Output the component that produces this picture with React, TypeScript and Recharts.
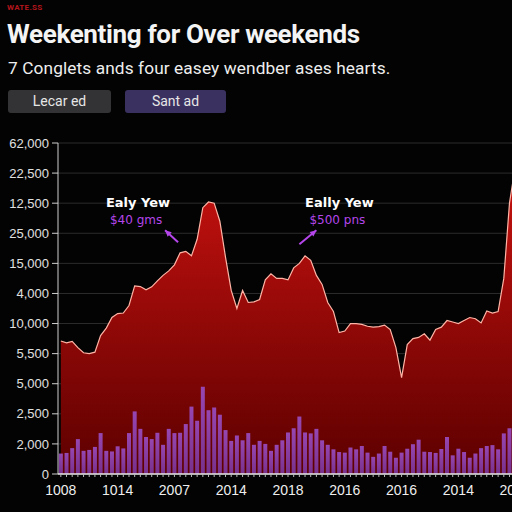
import { ComposedChart, Area, Bar, XAxis, YAxis, CartesianGrid, ReferenceDot } from 'recharts'

// weekly price trace (axis units, one step per gridline)
const priceLine = [
  4.42, 4.36, 4.41, 4.2, 4.03, 4.0, 4.05, 4.6, 4.85, 5.2,
  5.33, 5.35, 5.6, 6.25, 6.23, 6.12, 6.22, 6.42, 6.6, 6.75,
  6.95, 7.35, 7.4, 7.25, 7.8, 8.85, 9.04, 9.0, 8.4, 7.2,
  6.1, 5.5, 6.1, 5.7, 5.72, 5.8, 6.45, 6.65, 6.5, 6.5,
  6.45, 6.85, 7.0, 7.25, 7.1, 6.6, 6.3, 5.7, 5.4, 4.7,
  4.75, 5.0, 5.0, 4.97, 4.91, 4.88, 4.9, 4.95, 4.8, 4.2,
  3.2, 4.3, 4.5, 4.54, 4.66, 4.45, 4.8, 4.88, 5.1, 5.05,
  5.0, 5.1, 5.2, 5.16, 5.02, 5.42, 5.35, 5.4, 6.5, 9.0,
  10.2,
]

// weekly volume bars
const volumeBars = [
  0.68, 0.7, 0.86, 1.16, 0.77, 0.8, 0.9, 1.36, 0.77, 0.75,
  0.92, 0.85, 1.36, 2.08, 1.5, 1.23, 1.16, 1.37, 0.97, 1.5,
  1.36, 1.37, 1.66, 2.24, 1.77, 2.9, 2.12, 2.21, 1.97, 1.46,
  1.1, 1.28, 1.12, 1.36, 0.97, 1.1, 1.0, 0.77, 0.97, 1.12,
  1.38, 1.52, 1.91, 1.38, 1.35, 1.5, 1.12, 0.97, 0.82, 0.73,
  0.71, 0.88, 0.82, 0.93, 0.71, 0.57, 0.68, 0.93, 0.74, 0.54,
  0.71, 0.84, 0.99, 1.14, 0.74, 0.73, 0.7, 0.83, 1.23, 0.62,
  0.84, 0.73, 0.54, 0.68, 0.86, 0.93, 0.96, 0.82, 1.35, 1.52,
  2.9,
]

const yTickLabels = [
  '0', '2,000', '2,500', '5,000', '5,500', '10,000',
  '4,000', '15,000', '25,000', '12,500', '22,500', '62,000',
]

const xTickLabels = ['1008', '1014', '2007', '2014', '2018', '2016', '2016', '2014', '2018']

const callouts = [
  { at: 18, level: 8.1, title: 'Ealy Yew', note: '$40 gms', side: 'left' },
  { at: 45, level: 8.1, title: 'Eally Yew', note: '$500 pns', side: 'right' },
]

const data = priceLine.map((price, i) => ({ i, price, volume: volumeBars[i] }))

const ACCENT = '#b446ea'

function AxisTick({ x, y, payload }: any) {
  const idx = payload.value as number
  const showLabel = idx % 10 === 0
  return (
    <g>
      <line x1={x} x2={x} y1={y} y2={y + 3} stroke="#bbb" strokeWidth={1} />
      {showLabel && (
        <text x={x} y={y + 21} textAnchor="middle" fill="#eee" fontSize={14} fontFamily="'Liberation Sans', Arial, sans-serif">
          {xTickLabels[idx / 10]}
        </text>
      )}
    </g>
  )
}

function Callout({ cx, cy, title, note, side }: any) {
  const left = side === 'left'
  const tx = left ? cx - 25 : cx + 23
  const tail = left ? { x: cx + 15, y: cy + 12 } : { x: cx - 17, y: cy + 14 }
  const head = { x: cx + (left ? 2 : 0), y: cy }
  const ang = Math.atan2(head.y - tail.y, head.x - tail.x)
  const hl = 7
  const p1 = `${head.x},${head.y}`
  const p2 = `${head.x - hl * Math.cos(ang - 0.45)},${head.y - hl * Math.sin(ang - 0.45)}`
  const p3 = `${head.x - hl * Math.cos(ang + 0.45)},${head.y - hl * Math.sin(ang + 0.45)}`
  return (
    <g fontFamily="'DejaVu Sans', sans-serif">
      <text x={tx} y={cy - 23} textAnchor="middle" fill="#fff" fontSize={13} fontWeight="bold">
        {title}
      </text>
      <text x={tx - 2} y={cy - 6} textAnchor="middle" fill={ACCENT} fontSize={12}>
        {note}
      </text>
      <line x1={tail.x} y1={tail.y} x2={head.x} y2={head.y} stroke={ACCENT} strokeWidth={2} />
      <polygon points={`${p1} ${p2} ${p3}`} fill={ACCENT} />
    </g>
  )
}

export default function App() {
  return (
    <div
      style={{
        position: 'absolute',
        left: 0,
        top: 0,
        width: 512,
        height: 512,
        overflow: 'hidden',
        background: '#030303',
        fontFamily: 'Roboto, sans-serif',
      }}
    >
      <div style={{ position: 'absolute', left: 7, top: 3, fontSize: 8, fontWeight: 700, color: '#b3151b', letterSpacing: 0.3 }}>
        WATE.SS
      </div>
      <div style={{ position: 'absolute', left: 7, top: 19, fontSize: 26, fontWeight: 700, color: '#f4f4f4', letterSpacing: -0.35, whiteSpace: 'nowrap' }}>
        Weekenting for Over weekends
      </div>
      <div style={{ position: 'absolute', left: 8, top: 58, fontSize: 17.3, color: '#eee', letterSpacing: 0.1, whiteSpace: 'nowrap' }}>
        7 Conglets ands four easey wendber ases hearts.
      </div>
      <div style={{ position: 'absolute', left: 8, top: 90, width: 103, height: 23, borderRadius: 3, background: '#333335', color: '#e6e6e6', fontSize: 14, lineHeight: '23px', textAlign: 'center' }}>
        Lecar ed
      </div>
      <div style={{ position: 'absolute', left: 125, top: 90, width: 101, height: 23, borderRadius: 3, background: '#3b3160', color: '#e6e6e6', fontSize: 14, lineHeight: '23px', textAlign: 'center' }}>
        Sant ad
      </div>

      <div style={{ position: 'absolute', left: 0, top: 130 }}>
        <ComposedChart
          width={518}
          height={374}
          data={data}
          margin={{ top: 13, right: 0, bottom: 0, left: 0 }}
          barCategoryGap="15%"
        >
          <defs>
            <linearGradient id="priceFill" x1="0" y1="0" x2="0" y2="1">
              <stop offset="0%" stopColor="#c8120f" />
              <stop offset="100%" stopColor="#5c0000" />
            </linearGradient>
            <linearGradient id="volFill" x1="0" y1="0" x2="0" y2="1">
              <stop offset="0%" stopColor="#9a4cc0" />
              <stop offset="100%" stopColor="#7a3599" />
            </linearGradient>
          </defs>
          <CartesianGrid vertical={false} stroke="#2c2c2c" />
          <YAxis
            type="number"
            domain={[0, 11]}
            ticks={yTickLabels.map((_, k) => k)}
            tickFormatter={(v: number) => yTickLabels[v]}
            width={58}
            axisLine={{ stroke: '#cfcfcf' }}
            tickLine={{ stroke: '#cfcfcf' }}
            tickSize={6}
            tickMargin={3}
            tick={{ fill: '#e0e0e0', fontSize: 13, fontFamily: "'Liberation Sans', Arial, sans-serif" }}
          />
          <XAxis
            dataKey="i"
            interval={0}
            height={30}
            tickLine={false}
            tickSize={0}
            tickMargin={0}
            axisLine={{ stroke: '#e8e8e8', strokeWidth: 1.5 }}
            tick={<AxisTick />}
          />
          <Area
            type="linear"
            dataKey="price"
            stroke="#ffb4a6"
            strokeWidth={1.2}
            fill="url(#priceFill)"
            fillOpacity={1}
            isAnimationActive={false}
            dot={false}
            activeDot={false}
          />
          <Bar dataKey="volume" fill="url(#volFill)" fillOpacity={0.92} isAnimationActive={false} />
          {callouts.map((c) => (
            <ReferenceDot
              key={c.title}
              x={c.at}
              y={c.level}
              r={0}
              shape={(p: any) => <Callout cx={p.cx} cy={p.cy} title={c.title} note={c.note} side={c.side} />}
            />
          ))}
        </ComposedChart>
      </div>
    </div>
  )
}
